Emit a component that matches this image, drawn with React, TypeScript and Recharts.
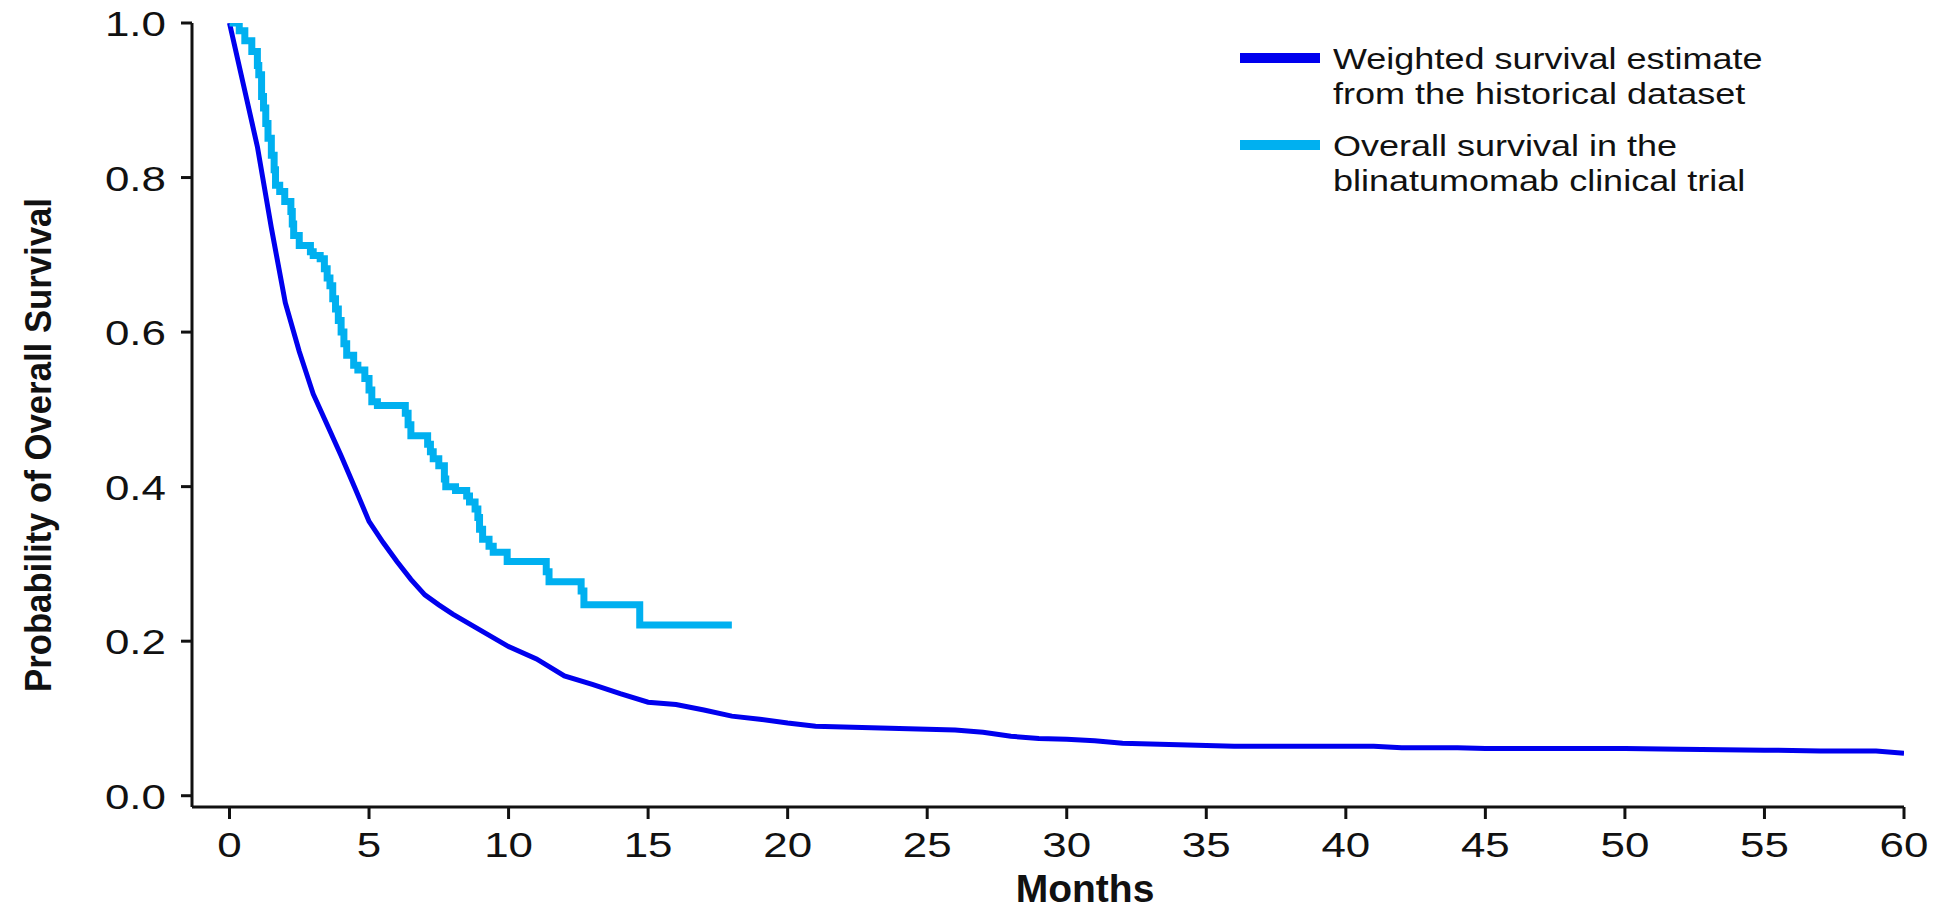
import React from "react";
import { LineChart, Line, XAxis, YAxis, Legend } from "recharts";

const monthTicks = [0, 5, 10, 15, 20, 25, 30, 35, 40, 45, 50, 55, 60];
const probTicks = [0, 0.2, 0.4, 0.6, 0.8, 1.0];

const historicalMonths = [0, 0.5, 1, 1.5, 2, 2.5, 3, 3.5, 4, 4.5, 5, 5.5, 6, 6.5, 7, 7.5, 8, 9, 10, 11, 12, 13, 14, 15, 16, 17, 18, 19, 20, 21, 22, 23, 24, 25, 26, 27, 28, 29, 30, 31, 32, 33, 34, 35, 36, 38, 40, 41, 42, 44, 45, 48, 50, 52, 55, 57, 59, 60];
const historicalSurvival = [1.0, 0.92, 0.84, 0.735, 0.638, 0.575, 0.52, 0.48, 0.44, 0.398, 0.355, 0.328, 0.303, 0.28, 0.26, 0.247, 0.235, 0.214, 0.193, 0.177, 0.155, 0.144, 0.132, 0.121, 0.118, 0.111, 0.103, 0.099, 0.094, 0.09, 0.089, 0.088, 0.087, 0.086, 0.085, 0.082, 0.077, 0.074, 0.073, 0.071, 0.068, 0.067, 0.066, 0.065, 0.064, 0.064, 0.064, 0.064, 0.062, 0.062, 0.061, 0.061, 0.061, 0.06, 0.059, 0.058, 0.058, 0.055];

const trialMonths = [0, 0.35, 0.55, 0.8, 1.0, 1.05, 1.15, 1.22, 1.3, 1.38, 1.5, 1.6, 1.65, 1.8, 1.98, 2.2, 2.25, 2.3, 2.5, 2.9, 3.0, 3.25, 3.4, 3.5, 3.6, 3.7, 3.8, 3.9, 4.0, 4.1, 4.2, 4.45, 4.6, 4.85, 5.0, 5.1, 5.3, 6.3, 6.4, 6.5, 7.1, 7.2, 7.3, 7.5, 7.7, 7.75, 8.1, 8.5, 8.6, 8.8, 8.9, 8.96, 9.07, 9.3, 9.45, 9.95, 11.35, 11.45, 12.6, 12.7, 14.7, 18.0];
const trialSurvival = [1.0, 0.99, 0.977, 0.963, 0.945, 0.933, 0.905, 0.89, 0.87, 0.851, 0.829, 0.81, 0.79, 0.782, 0.769, 0.756, 0.74, 0.725, 0.712, 0.704, 0.699, 0.695, 0.682, 0.67, 0.66, 0.643, 0.63, 0.615, 0.6, 0.585, 0.57, 0.557, 0.551, 0.54, 0.525, 0.51, 0.505, 0.495, 0.48, 0.466, 0.455, 0.445, 0.436, 0.427, 0.41, 0.4, 0.395, 0.388, 0.38, 0.371, 0.36, 0.345, 0.332, 0.323, 0.315, 0.303, 0.29, 0.277, 0.265, 0.247, 0.221, 0.221];

const seriesNames = ["Weighted survival estimate from the historical dataset", "Overall survival in the blinatumomab clinical trial"];
const legendLines = [
  ["Weighted survival estimate", "from the historical dataset"],
  ["Overall survival in the", "blinatumomab clinical trial"],
];
const seriesColors = ["#0000EE", "#00B0F0"];
const xTitle = "Months";
const yTitle = "Probability of Overall Survival";

const historicalData = historicalMonths.map((t, i) => ({ t, s: historicalSurvival[i] }));
const trialData = trialMonths.map((t, i) => ({ t, s: trialSurvival[i] }));

const FONT = "'Liberation Sans', Arial, sans-serif";
const INK = "#111111";

const XTick = (props: any) => {
  const { x, y, payload } = props;
  return (
    <text transform={`translate(${x},${y}) scale(1.22,1)`} x={0} y={0} dy={38} textAnchor="middle" fontFamily={FONT} fontSize={36} fill={INK}>
      {payload.value}
    </text>
  );
};

const YTick = (props: any) => {
  const { x, y, payload } = props;
  return (
    <text transform={`translate(${x},${y}) scale(1.22,1)`} x={0} y={0} dy={13} textAnchor="end" fontFamily={FONT} fontSize={36} fill={INK}>
      {Number(payload.value).toFixed(1)}
    </text>
  );
};

const XLabel = (props: any) => {
  const vb = props.viewBox || {};
  const cx = vb.x + vb.width / 2 + 37;
  return (
    <text transform={`translate(${cx},902)`} x={0} y={0} textAnchor="middle" fontFamily={FONT} fontWeight="bold" fontSize={39} fill={INK}>
      {xTitle}
    </text>
  );
};

const YLabel = (props: any) => {
  const vb = props.viewBox || {};
  const cy = vb.y + vb.height / 2 + 30;
  return (
    <text transform={`translate(51,${cy}) rotate(-90)`} x={0} y={0} textAnchor="middle" fontFamily={FONT} fontWeight="bold" fontSize={37} textLength={494} lengthAdjust="spacingAndGlyphs" fill={INK}>
      {yTitle}
    </text>
  );
};

const LegendContent = () => (
  <div style={{ fontFamily: FONT, fontSize: 30, color: INK, lineHeight: "35px" }}>
    {legendLines.map((lines, i) => (
      <div key={i} style={{ display: "flex", alignItems: "flex-start", marginBottom: i === 0 ? 17 : 0 }}>
        <div style={{ width: 80, height: 10, background: seriesColors[i], marginTop: 12.5, flexShrink: 0 }} />
        <div style={{ marginLeft: 13, transform: "scaleX(1.2)", transformOrigin: "left top", whiteSpace: "nowrap" }}>
          <div>{lines[0]}</div>
          <div>{lines[1]}</div>
        </div>
      </div>
    ))}
  </div>
);

export default function App() {
  return (
    <div style={{ position: "absolute", left: 0, top: 0, width: 1939, height: 914, background: "#fff" }}>
      <LineChart width={1939} height={914} margin={{ top: 23, right: 35, left: 0, bottom: 0 }}>
        <XAxis
          type="number"
          dataKey="t"
          domain={[-1.343, 60]}
          ticks={monthTicks}
          interval={0}
          allowDataOverflow
          height={107}
          tickSize={12}
          tickMargin={0}
          axisLine={{ stroke: INK, strokeWidth: 3 }}
          tickLine={{ stroke: INK, strokeWidth: 3 }}
          tick={<XTick />}
          label={<XLabel />}
        />
        <YAxis
          type="number"
          domain={[-0.0146, 1]}
          ticks={probTicks}
          interval={0}
          allowDataOverflow
          width={192}
          tickSize={11}
          tickMargin={15}
          axisLine={{ stroke: INK, strokeWidth: 3 }}
          tickLine={{ stroke: INK, strokeWidth: 3 }}
          tick={<YTick />}
          label={<YLabel />}
        />
        <Legend
          layout="horizontal"
          verticalAlign="middle"
          align="center"
          content={<LegendContent />}
          wrapperStyle={{ position: "absolute", left: 1240, top: 40.5, width: 680, height: 160 }}
        />
        <Line
          name={seriesNames[0]}
          data={historicalData}
          dataKey="s"
          type="linear"
          stroke={seriesColors[0]}
          strokeWidth={5}
          dot={false}
          activeDot={false}
          isAnimationActive={false}
        />
        <Line
          name={seriesNames[1]}
          data={trialData}
          dataKey="s"
          type="stepAfter"
          stroke={seriesColors[1]}
          strokeWidth={7}
          dot={false}
          activeDot={false}
          isAnimationActive={false}
        />
      </LineChart>
    </div>
  );
}
